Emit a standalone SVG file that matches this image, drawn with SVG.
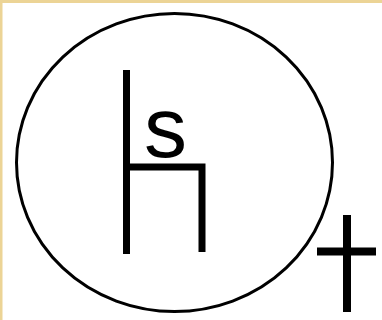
<svg xmlns="http://www.w3.org/2000/svg" width="382" height="320" viewBox="0 0 382 320">
  <style>
    .ln { stroke: #000; fill: none; stroke-linecap: butt; }
    .lbl { font-family: "Liberation Sans", Arial, sans-serif; fill: #000; }
  </style>
  <rect x="0" y="0" width="382" height="320" fill="#ffffff"/>
  <rect x="0" y="0" width="382" height="3" fill="#ecd496"/>
  <rect x="0" y="0" width="2.5" height="320" fill="#ecd496"/>
  <g id="circle">
    <ellipse cx="174.5" cy="162.5" rx="158" ry="149" class="ln" stroke-width="3"/>
  </g>
  <g id="symbol">
    <line x1="126.5" y1="70" x2="126.5" y2="254" class="ln" stroke-width="7"/>
    <polyline points="126.5,167 202,167 202,252" class="ln" stroke-width="7" stroke-linejoin="miter"/>
    <text x="165.5" y="157" class="lbl" font-size="86" text-anchor="middle">s</text>
  </g>
  <g id="dagger">
    <line x1="347" y1="215" x2="347" y2="312" class="ln" stroke-width="8"/>
    <line x1="317" y1="251.5" x2="376" y2="251.5" class="ln" stroke-width="8"/>
  </g>
</svg>
